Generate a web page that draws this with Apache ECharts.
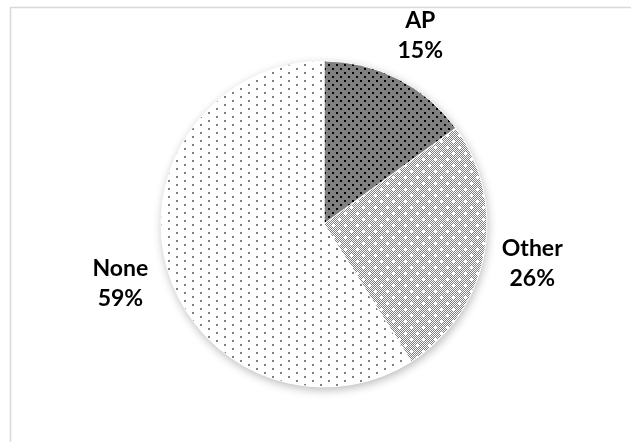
<!DOCTYPE html>
<html><head><meta charset="utf-8">
<script src="https://cdn.jsdelivr.net/npm/echarts@6/dist/echarts.min.js"></script>
<style>html,body{margin:0;padding:0;background:#fff}#c{width:631px;height:442px}</style>
</head><body><div id="c"></div>
<script>
// ---- data ----
const categories = ['AP', 'Other', 'None'];
const values = [15, 26, 59];

// ---- pattern fills ----
function makeTile(w, h, bg, draw) {
  const cv = document.createElement('canvas');
  cv.width = w; cv.height = h;
  const ctx = cv.getContext('2d');
  ctx.fillStyle = bg; ctx.fillRect(0, 0, w, h);
  draw(ctx);
  return cv;
}
const apTile = makeTile(8, 8, '#808080', ctx => {
  ctx.fillStyle = '#000';
  ctx.fillRect(0, 0, 2, 2);
  ctx.fillRect(4, 4, 2, 2);
});
const otherTile = makeTile(12, 12, '#ffffff', ctx => {
  ctx.fillStyle = '#808080';
  for (let y = 0; y < 12; y++) for (let x = 0; x < 12; x++) if ((x + y) % 2 === 1) ctx.fillRect(x, y, 1, 1);
  ctx.fillStyle = '#ffffff';
  [[3, 3], [9, 9]].forEach(([cx, cy]) => {
    ctx.fillRect(cx - 1, cy, 3, 1);
    ctx.fillRect(cx, cy - 1, 1, 3);
  });
});
const noneTile = makeTile(16, 8, '#ffffff', ctx => {
  ctx.fillStyle = '#808080';
  ctx.fillRect(0, 0, 2, 2);
  ctx.fillRect(8, 4, 2, 2);
});
const fills = [apTile, otherTile, noneTile].map(t => ({ image: t, repeat: 'repeat' }));

const chart = echarts.init(document.getElementById('c'), null, { renderer: 'canvas' });
const center = [324, 224];
const radius = 163;
const pieData = categories.map((n, i) => ({ name: n, value: values[i] }));

chart.setOption({
  animation: false,
  backgroundColor: '#ffffff',
  graphic: [{
    type: 'rect', left: 8, top: 5, silent: true,
    shape: { width: 700, height: 500 },
    style: { fill: 'none', stroke: '#d9d9d9', lineWidth: 1.5 }
  }],
  series: [
    { // shadow base
      type: 'pie', center, radius, startAngle: 90, clockwise: true, silent: true, z: 1,
      label: { show: false }, labelLine: { show: false }, emphasis: { disabled: true },
      itemStyle: { color: '#fff', shadowBlur: 10, shadowColor: 'rgba(0,0,0,0.28)', shadowOffsetY: 3, shadowOffsetX: 1 },
      data: pieData
    },
    { // patterned slices
      type: 'pie', center, radius, startAngle: 90, clockwise: true, silent: true, z: 2,
      label: { show: false }, labelLine: { show: false }, emphasis: { disabled: true },
      data: pieData.map((d, i) => ({ ...d, itemStyle: { color: fills[i], borderColor: '#fff', borderWidth: 1 } }))
    },
    { // labels ring
      type: 'pie', center, radius: [196, 222], startAngle: 90, clockwise: true, silent: true, z: 3,
      labelLine: { show: false }, emphasis: { disabled: true },
      itemStyle: { color: 'rgba(0,0,0,0)', borderWidth: 0 },
      label: {
        show: true, position: 'inside', color: '#000',
        fontFamily: 'Lato, "Open Sans", sans-serif', fontWeight: 'bold', fontSize: 23, lineHeight: 30,
        align: 'center',
        formatter: p => p.name + '\n' + Math.round(p.percent) + '%'
      },
      data: pieData
    }
  ]
});
</script>
</body></html>
